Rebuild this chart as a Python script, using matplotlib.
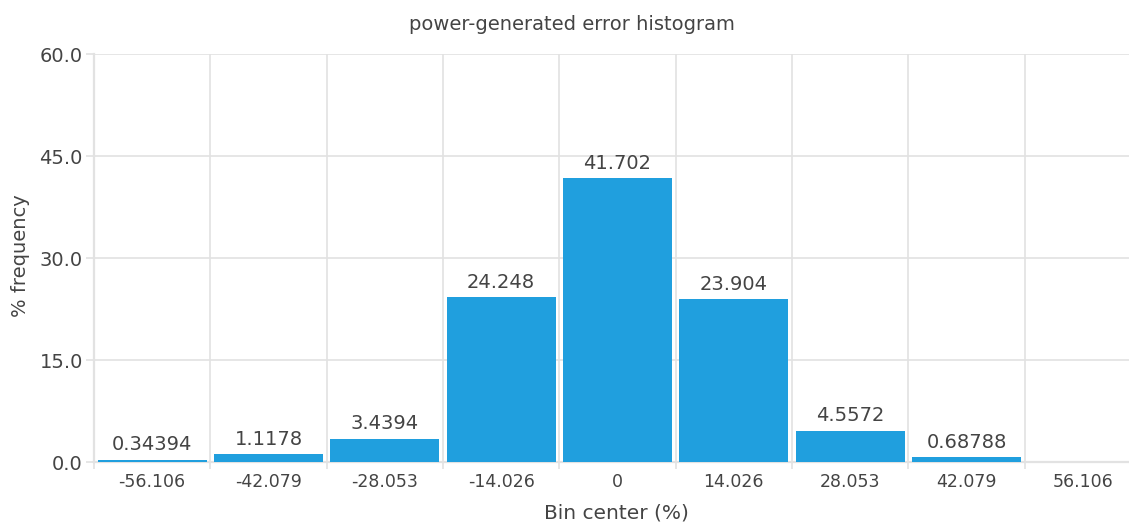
import matplotlib
matplotlib.use("Agg")
import matplotlib.pyplot as plt
from matplotlib.ticker import FixedLocator, FormatStrFormatter

bin_centers = ["-56.106", "-42.079", "-28.053", "-14.026", "0", "14.026", "28.053", "42.079", "56.106"]
frequency = [0.34394, 1.1178, 3.4394, 24.248, 41.702, 23.904, 4.5572, 0.68788, 0.0]
value_labels = ["0.34394", "1.1178", "3.4394", "24.248", "41.702", "23.904", "4.5572", "0.68788", ""]
y_ticks = [0, 15, 30, 45, 60]

bar_color = "#209FDE"
text_color = "#444444"
grid_color = "#E2E2E2"

W, H = 1129, 526
fig = plt.figure(figsize=(W / 100, H / 100), dpi=100)
left, right, top, bottom = 94, 1141, 54, 462
ax = fig.add_axes([left / W, 1 - bottom / H, (right - left) / W, (bottom - top) / H])

x = list(range(len(bin_centers)))
ax.bar(x, frequency, width=0.935, color=bar_color, zorder=3)
for xi, v, lab in zip(x, frequency, value_labels):
    if lab:
        ax.annotate(lab, (xi, v), xytext=(0, 4), textcoords="offset points",
                    ha="center", va="bottom", fontsize=14, color=text_color, zorder=4)

ax.set_xlim(-0.5, len(bin_centers) - 0.5)
ax.set_ylim(0, 60)
ax.set_xticks(x)
ax.set_xticklabels(bin_centers)
ax.xaxis.set_minor_locator(FixedLocator([i - 0.5 for i in range(len(bin_centers) + 1)]))
ax.tick_params(axis="x", which="major", length=0, pad=8, labelsize=12.5, labelcolor=text_color)
ax.tick_params(axis="x", which="minor", length=5, width=1.2, color=grid_color, direction="out")
ax.set_yticks(y_ticks)
ax.yaxis.set_major_formatter(FormatStrFormatter("%.1f"))
ax.tick_params(axis="y", length=6, width=1.2, color=grid_color, pad=2, labelsize=14, labelcolor=text_color)

ax.grid(True, axis="y", which="major", color=grid_color, lw=1.2, zorder=0)
ax.grid(True, axis="x", which="minor", color=grid_color, lw=1.2, zorder=0)
ax.grid(False, axis="x", which="major")
for s in ["top", "right"]:
    ax.spines[s].set_visible(False)
for s in ["left", "bottom"]:
    ax.spines[s].set_color(grid_color)
    ax.spines[s].set_linewidth(1.6)

fig.text(572 / W, 1 - 24 / H, "power-generated error histogram", ha="center", va="center",
         fontsize=14, color=text_color)
fig.text(616 / W, 1 - 513 / H, "Bin center (%)", ha="center", va="center",
         fontsize=14.5, color=text_color)
fig.text(21 / W, 1 - 256 / H, "% frequency", ha="center", va="center", rotation=90,
         fontsize=14, color=text_color)

fig.savefig("out.png", dpi=100)
